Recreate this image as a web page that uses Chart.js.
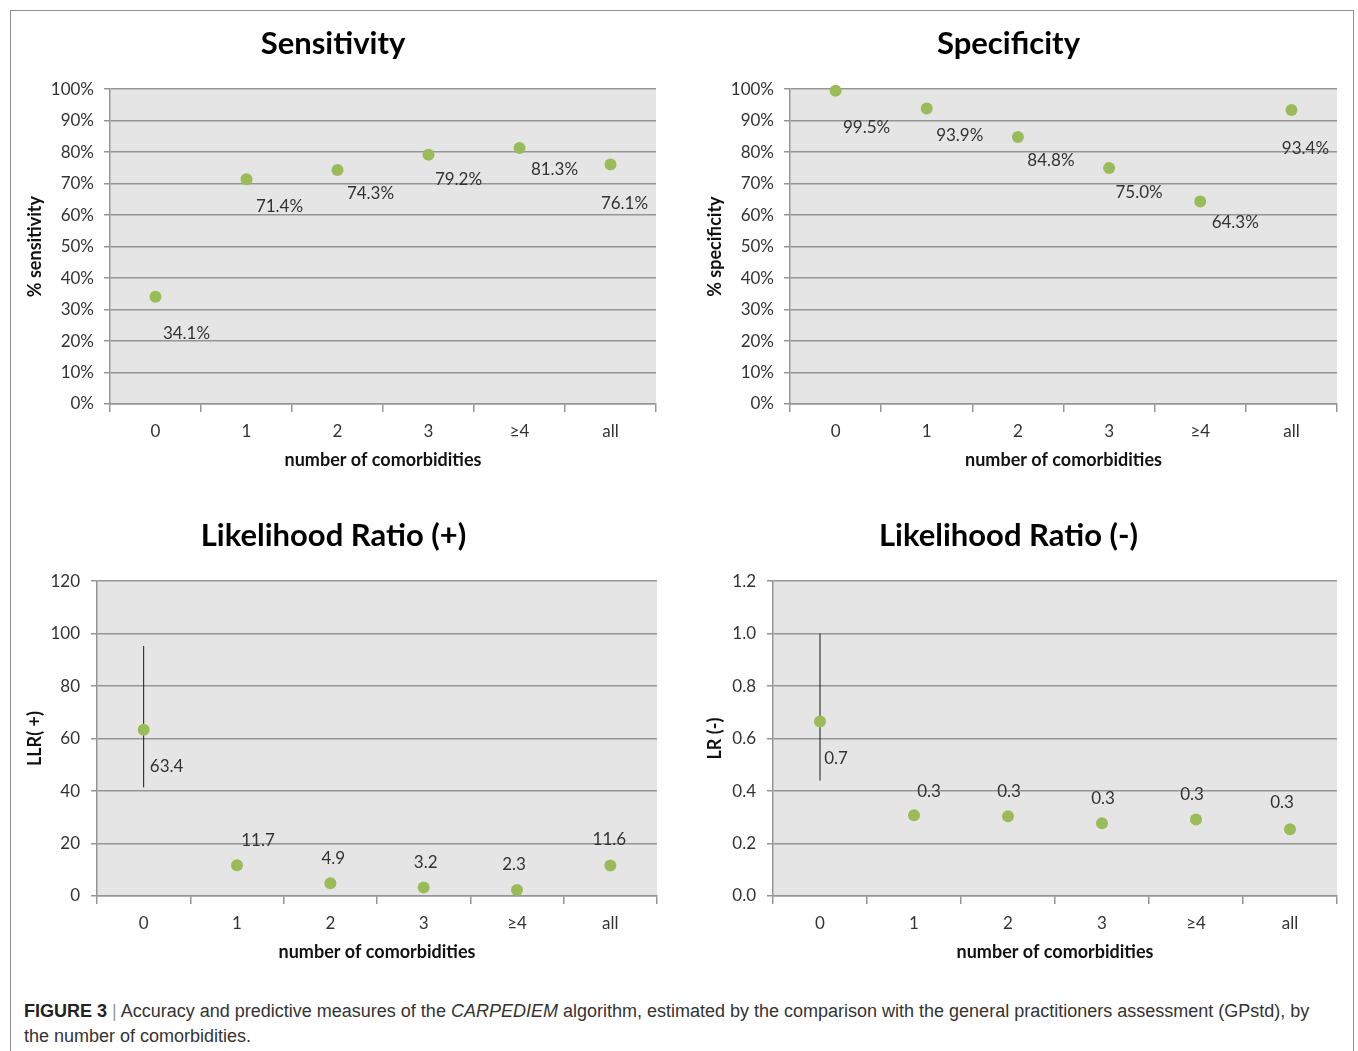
<!DOCTYPE html>
<html>
<head>
<meta charset="utf-8">
<script src="https://cdn.jsdelivr.net/npm/chart.js@4.4.1/dist/chart.umd.min.js"></script>
<style>
  body { margin: 0; background: #fff; }
  #page { position: relative; width: 1358px; height: 1051px; overflow: hidden; }
  #frame { position: absolute; left: 10px; top: 10px; width: 1344px; height: 1100px; border: 1px solid #8f8f8f; box-sizing: border-box; }
  canvas { position: absolute; }
  #caption { position: absolute; left: 24px; top: 999px; font-family: "Liberation Sans", Arial, sans-serif; font-size: 18px; line-height: 25px; color: #333; white-space: nowrap; }
  #caption b { color: #222; }
  #caption .sep { color: #999; }
</style>
</head>
<body>
<div id="page">
  <div id="frame"></div>
  <canvas id="sens" width="670" height="480" style="left:10px;top:10px"></canvas>
  <canvas id="spec" width="670" height="480" style="left:680px;top:10px"></canvas>
  <canvas id="lrpos" width="670" height="480" style="left:10px;top:500px"></canvas>
  <canvas id="lrneg" width="670" height="480" style="left:680px;top:500px"></canvas>
  <div id="caption"><b>FIGURE 3</b> <span class="sep">|</span> Accuracy and predictive measures of the <i>CARPEDIEM</i> algorithm, estimated by the comparison with the general practitioners assessment (GPstd), by<br>the number of comorbidities.</div>
</div>
<script>
// data
const categories = ['0', '1', '2', '3', '≥4', 'all'];
const sensitivity = [34.1, 71.4, 74.3, 79.2, 81.3, 76.1];
const specificity = [99.5, 93.9, 84.8, 75.0, 64.3, 93.4];
const lrPositive = [63.4, 11.7, 4.9, 3.2, 2.3, 11.6];
const lrNegative = [0.665, 0.308, 0.304, 0.277, 0.292, 0.254];
// vertical interval drawn at category "0"
const lrPositiveRange = [41.4, 95.3];
const lrNegativeRange = [0.44, 1.0];

// where each value label sits relative to its point (px)
const topLabelOffsets = [[31, 37], [33, 27], [33, 23], [30, 25], [35, 21], [14, 39]];
const lrPosLabelOffsets = [[23, 37], [21, -25], [3, -25], [2, -25], [-3, -25], [-1, -26]];
const lrNegLabelOffsets = [[16, 37], [15, -24], [1, -25], [1, -25], [-4, -25], [-8, -27]];

const FONT = 'Lato, "Open Sans", sans-serif';
const GREEN = '#9bbb59';
const GRID = '#959595';

const plotBg = {
  id: 'plotBg',
  beforeDraw(chart) {
    const { ctx, chartArea: a } = chart;
    ctx.save();
    ctx.fillStyle = '#e5e5e5';
    ctx.fillRect(a.left, a.top, a.width, a.height);
    ctx.restore();
  }
};

function valueLabels(offsets, fmt) {
  return {
    id: 'valueLabels',
    afterDatasetsDraw(chart) {
      const ctx = chart.ctx;
      const meta = chart.getDatasetMeta(0);
      const vals = chart.data.datasets[0].data;
      ctx.save();
      ctx.font = '17px ' + FONT;
      ctx.fillStyle = '#333';
      ctx.textAlign = 'center';
      ctx.textBaseline = 'middle';
      meta.data.forEach((pt, i) => {
        ctx.fillText(fmt(vals[i]), pt.x + offsets[i][0], pt.y + offsets[i][1]);
      });
      ctx.restore();
    }
  };
}

function makeChart(id, o) {
  const datasets = [{
    data: o.values,
    showLine: false,
    clip: false,
    pointRadius: 6,
    pointHoverRadius: 6,
    pointBackgroundColor: GREEN,
    pointBorderColor: GREEN,
    pointBorderWidth: 0,
    order: 1
  }];
  if (o.range) {
    datasets.push({
      data: [{ x: categories[0], y: o.range[0] }, { x: categories[0], y: o.range[1] }],
      borderColor: '#1a1a1a',
      borderWidth: 1,
      pointRadius: 0,
      order: 2
    });
  }
  return new Chart(document.getElementById(id), {
    type: 'line',
    data: { labels: categories, datasets: datasets },
    options: {
      responsive: false,
      animation: false,
      devicePixelRatio: 1,
      layout: { padding: { left: 0, right: o.padRight, top: 0, bottom: 0 } },
      plugins: {
        legend: { display: false },
        tooltip: { enabled: false },
        title: {
          display: true,
          text: o.title,
          color: '#000',
          font: { family: FONT, size: 31, weight: 'bold' },
          padding: { top: o.titleTop, bottom: o.titleBottom }
        }
      },
      scales: {
        x: {
          type: 'category',
          offset: true,
          grid: { offset: true, drawOnChartArea: false, drawTicks: true, tickLength: 8, color: GRID, lineWidth: 1.5 },
          border: { color: GRID, width: 1.5 },
          ticks: { color: '#333', font: { family: FONT, size: 17 }, padding: 9 },
          title: {
            display: true,
            text: 'number of comorbidities',
            color: '#111',
            font: { family: FONT, size: 18, weight: 'bold' },
            padding: { top: 0, bottom: o.xTitleBottom }
          },
          afterFit(s) { s.height = o.xHeight; }
        },
        y: {
          min: o.min,
          max: o.max,
          grid: { color: GRID, lineWidth: 1.5, tickLength: 6 },
          border: { color: GRID, width: 1.5 },
          ticks: { stepSize: o.step, color: '#333', font: { family: FONT, size: 17 }, padding: o.tickPad, callback: o.tick },
          title: {
            display: true,
            text: o.yTitle,
            color: '#111',
            font: { family: FONT, size: 18, weight: 'bold' },
            padding: { top: o.yTitlePad, bottom: 0 }
          },
          afterFit(s) { s.width = o.yWidth; }
        }
      }
    },
    plugins: [plotBg, valueLabels(o.offsets, o.fmt)]
  });
}

const pct = v => v + '%';
const pctLabel = v => v.toFixed(1) + '%';
const oneDec = v => v.toFixed(1);

makeChart('sens', {
  title: 'Sensitivity', values: sensitivity, offsets: topLabelOffsets, fmt: pctLabel,
  min: 0, max: 100, step: 10, tick: pct, yTitle: '% sensitivity',
  yWidth: 100, tickPad: 10, yTitlePad: 14, padRight: 24,
  titleTop: 15, titleBottom: 27, xHeight: 86, xTitleBottom: 19
});
makeChart('spec', {
  title: 'Specificity', values: specificity, offsets: topLabelOffsets, fmt: pctLabel,
  min: 0, max: 100, step: 10, tick: pct, yTitle: '% specificity',
  yWidth: 110, tickPad: 10, yTitlePad: 24, padRight: 13,
  titleTop: 15, titleBottom: 27, xHeight: 86, xTitleBottom: 19
});
makeChart('lrpos', {
  title: 'Likelihood Ratio (+)', values: lrPositive, range: lrPositiveRange, offsets: lrPosLabelOffsets, fmt: oneDec,
  min: 0, max: 120, step: 20, tick: v => v, yTitle: 'LLR( +)',
  yWidth: 87, tickPad: 11, yTitlePad: 14, padRight: 23,
  titleTop: 17, titleBottom: 27, xHeight: 84, xTitleBottom: 17
});
makeChart('lrneg', {
  title: 'Likelihood Ratio (-)', values: lrNegative, range: lrNegativeRange, offsets: lrNegLabelOffsets, fmt: oneDec,
  min: 0, max: 1.2, step: 0.2, tick: v => v.toFixed(1), yTitle: 'LR (-)',
  yWidth: 93, tickPad: 11, yTitlePad: 24, padRight: 13,
  titleTop: 17, titleBottom: 27, xHeight: 84, xTitleBottom: 17
});
</script>
</body>
</html>
